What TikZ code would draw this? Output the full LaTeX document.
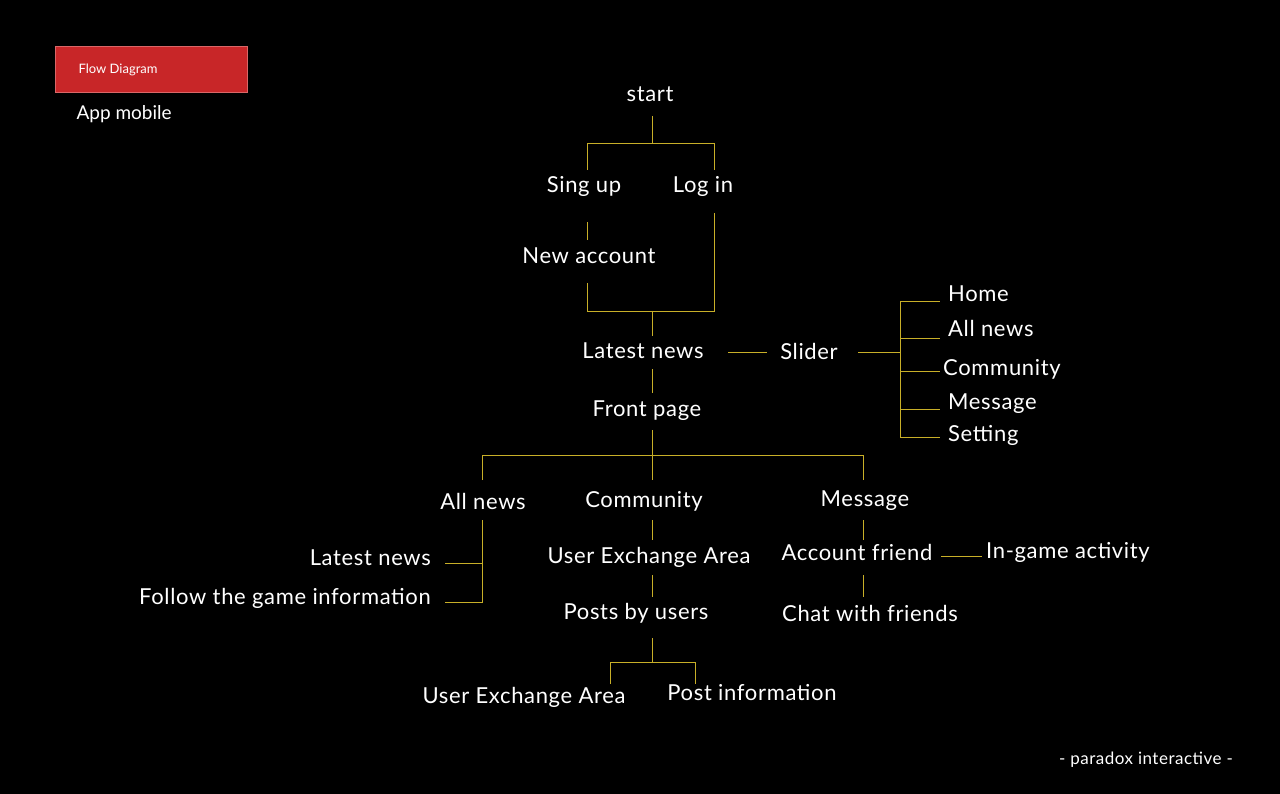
\documentclass[tikz,border=0pt]{standalone}
\usepackage{fontspec}
\setmainfont{Lato}
\definecolor{bgBlack}{RGB}{0,0,0}
\definecolor{lineGold}{RGB}{200,175,40}
\definecolor{boxRed}{RGB}{200,38,40}
\begin{document}
\begin{tikzpicture}[x=1pt, y=-1pt,
    txtStyle/.style={text=white, inner sep=0pt, font=\fontsize{22}{26}\selectfont\addfontfeature{LetterSpace=3}},
    lnStyle/.style={draw=lineGold, line width=0.9pt}]
    \fill[bgBlack] (0,0) rectangle (1280,794);
    \useasboundingbox (0,0) rectangle (1280,794);

    % header
    \node[fill=boxRed, draw=boxRed!70!white, minimum width=192pt, minimum height=46pt, inner sep=0pt] (title_box) at (151,69) {};
    \node[text=white, anchor=west, font=\fontsize{13}{15}\selectfont] (title_txt) at (75,70) {Flow Diagram};
    \node[text=white, anchor=west, font=\fontsize{19}{22}\selectfont] (app_txt) at (73,114) {App mobile};
    \node[text=white, font=\fontsize{17}{20}\selectfont\addfontfeature{LetterSpace=3}] (footer) at (1146,760) {- paradox interactive -};

    % login
    \node[txtStyle] (start)   at (650,94)  {start};
    \node[txtStyle] (signup)  at (584,186) {Sing up};
    \node[txtStyle] (login)   at (703,186) {Log in};
    \node[txtStyle] (newacc)  at (589,256) {New account};
    \node[txtStyle] (latest)  at (643,351) {Latest news};
    \node[txtStyle] (slider)  at (809,351) {Slider};
    \node[txtStyle] (front)   at (647,411) {Front page};

    % slider menu
    \node[txtStyle, anchor=west] (m_home) at (948,294) {Home};
    \node[txtStyle, anchor=west] (m_news) at (948,328) {All news};
    \node[txtStyle, anchor=west] (m_comm) at (943,369) {Community};
    \node[txtStyle, anchor=west] (m_msg)  at (948,404) {Message};
    \node[txtStyle, anchor=west] (m_set)  at (948,435) {Setting};

    % front page branches
    \node[txtStyle] (allnews) at (483,501) {All news};
    \node[txtStyle] (comm)    at (644,501) {Community};
    \node[txtStyle] (msg)     at (865,501) {Message};
    \node[txtStyle, anchor=east] (a_latest) at (431,558) {Latest news};
    \node[txtStyle, anchor=east] (a_follow) at (431,598) {Follow the game information};
    \node[txtStyle] (c_area)  at (649,557) {User Exchange Area};
    \node[txtStyle] (c_posts) at (636,613) {Posts by users};
    \node[txtStyle] (p_area)  at (524,697) {User Exchange Area};
    \node[txtStyle] (p_info)  at (752,693) {Post information};
    \node[txtStyle] (m_friend) at (857,552) {Account friend};
    \node[txtStyle, anchor=west] (m_game) at (986,552) {In-game activity};
    \node[txtStyle] (m_chat)  at (870,613) {Chat with friends};

    % connectors
    \draw[lnStyle] (652,116) -- (652,143);
    \draw[lnStyle] (587,170) |- (714,143) -- (714,170);
    \draw[lnStyle] (587,222) -- (587,240);
    \draw[lnStyle] (587,283) |- (714,311) -- (714,213);
    \draw[lnStyle] (652,311) -- (652,336);
    \draw[lnStyle] (728,352) -- (767,352);
    \draw[lnStyle] (858,352) -- (900,352);
    \draw[lnStyle] (900,301) -- (900,437);
    \foreach \yy in {301,338,371,409,437}
        \draw[lnStyle] (900,\yy) -- (940,\yy);
    \draw[lnStyle] (652,369) -- (652,393);
    \draw[lnStyle] (652,430) -- (652,480);
    \draw[lnStyle] (482,480) |- (863,455) -- (863,480);
    \draw[lnStyle] (482,520) -- (482,602) -- (445,602);
    \draw[lnStyle] (482,563) -- (445,563);
    \draw[lnStyle] (652,520) -- (652,540);
    \draw[lnStyle] (652,575) -- (652,597);
    \draw[lnStyle] (652,638) -- (652,662);
    \draw[lnStyle] (610,684) |- (695,662) -- (695,684);
    \draw[lnStyle] (863,520) -- (863,540);
    \draw[lnStyle] (941,556) -- (982,556);
    \draw[lnStyle] (863,575) -- (863,597);
\end{tikzpicture}
\end{document}
